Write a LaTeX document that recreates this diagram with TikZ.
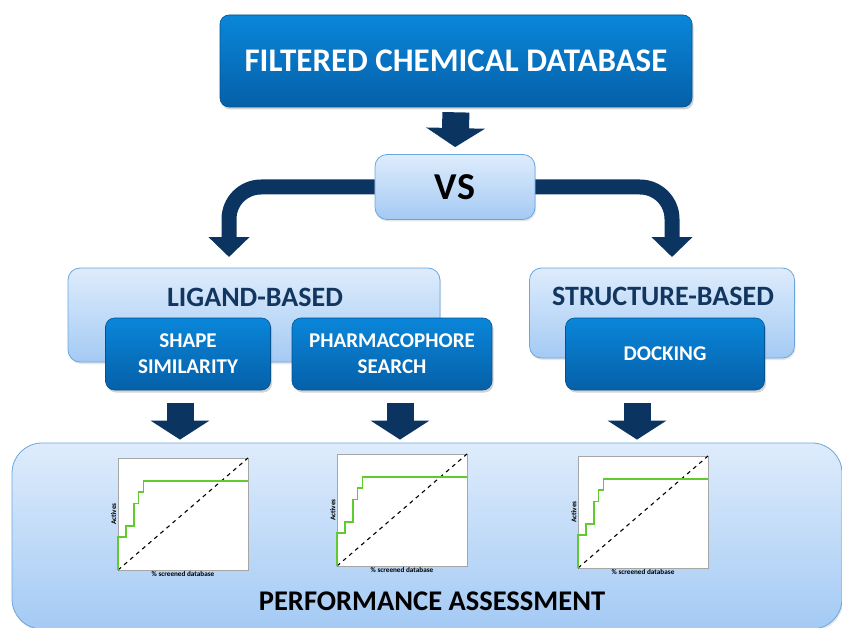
\documentclass[tikz,border=0pt]{standalone}
\usepackage{fontspec}
\setmainfont{Carlito}
\usetikzlibrary{arrows.meta,shadows,positioning,calc}

\definecolor{boxtop}{HTML}{0A86DA}
\definecolor{boxbot}{HTML}{0560A8}
\definecolor{lighttop}{HTML}{DEECFC}
\definecolor{lightbot}{HTML}{A4CAF4}
\definecolor{lightline}{HTML}{6AA6DE}
\definecolor{navy}{HTML}{0C3461}
\definecolor{navytext}{HTML}{12365F}
\definecolor{roc}{HTML}{5FCB2E}

\tikzset{
  darkbox/.style={rounded corners=9pt, top color=boxtop, bottom color=boxbot,
    draw=boxbot!85!black, line width=0.6pt, text=white, align=center,
    font=\bfseries\fontsize{21}{26}\selectfont,
    drop shadow={shadow xshift=1.5pt, shadow yshift=-2.5pt, opacity=0.35}},
  lightbox/.style={rounded corners=12pt, top color=lighttop, bottom color=lightbot,
    draw=lightline, line width=0.8pt,
    drop shadow={shadow xshift=1pt, shadow yshift=-2pt, opacity=0.2}},
  bigarrow/.style={navy, line width=27pt, -{Triangle[length=19pt,width=58pt]}},
  bendarrow/.style={navy, line width=15pt, rounded corners=32pt,
    -{Triangle[length=20pt,width=40pt]}},
  plotframe/.style={draw=gray!70, fill=white, line width=0.8pt},
  diag/.style={black, line width=1.1pt, dash pattern=on 4pt off 4pt},
  roccurve/.style={roc, line width=1.8pt},
  axislab/.style={font=\bfseries\fontsize{7.2}{8}\selectfont, inner sep=1.5pt},
  famtext/.style={text=navytext, font=\bfseries\fontsize{28}{32}\selectfont},
}

% one enrichment plot: name, lower left corner
\newcommand{\rocplot}[3]{%
  \begin{scope}[shift={(#2,#3)}, x=130pt, y=112pt]
    \draw[plotframe] (0,0) rectangle (1,1);
    \draw[diag] (0,0) -- (1,1);
    \draw[roccurve] (0,0) |- (0.059,0.297) |- (0.124,0.394) |- (0.157,0.594)
      |- (0.196,0.697) |- (1,0.797);
    \node[axislab, rotate=90, anchor=south] (#1y) at (0,0.5) {Actives};
    \node[axislab, anchor=north] (#1x) at (0.5,0) {\% screened database};
  \end{scope}}

\begin{document}
\begin{tikzpicture}[x=1pt, y=-1pt]
  \useasboundingbox (0,0) rectangle (842,628);
  %top
  \node[darkbox, minimum width=472pt, minimum height=92pt,
    font=\bfseries\fontsize{33}{36}\selectfont] (db) at (456,61) {FILTERED CHEMICAL DATABASE};
  \node[lightbox, minimum width=160pt, minimum height=65pt,
    font=\bfseries\fontsize{38}{40}\selectfont] (vs) at (455,187) {VS};
  %families
  \node[lightbox, minimum width=372pt, minimum height=94pt] (lig) at (254,315) {};
  \node[famtext] (ligt) at (255,297) {LIGAND-BASED};
  \node[lightbox, minimum width=265pt, minimum height=90pt] (str) at (662,313) {};
  \node[famtext] (strt) at (663,296) {STRUCTURE-BASED};
  %methods
  \node[darkbox, minimum width=165pt, minimum height=72pt] (sim) at (188,354) {SHAPE\\SIMILARITY};
  \node[darkbox, minimum width=200pt, minimum height=72pt] (pha) at (392,354) {PHARMACOPHORE\\SEARCH};
  \node[darkbox, minimum width=199pt, minimum height=72pt] (dock) at (665,354) {DOCKING};
  %assessment
  \node[lightbox, rounded corners=30pt, minimum width=830pt, minimum height=186pt] (perf) at (427,536) {};
  \node[font=\bfseries\fontsize{28.5}{32}\selectfont] (perft) at (432,601) {PERFORMANCE ASSESSMENT};
  \rocplot{p1}{118}{570}
  \rocplot{p2}{337}{566}
  \rocplot{p3}{578}{568}
  %arrows
  \coordinate (ligin) at (229,268);
  \coordinate (strin) at (672,268);
  \draw[bigarrow, shorten <=5pt, shorten >=7pt] (db.south) -- (vs.north);
  \draw[bendarrow, shorten >=11pt] (vs.west) -| (ligin);
  \draw[bendarrow, shorten >=11pt] (vs.east) -| (strin);
  \draw[bigarrow, shorten <=13pt, shorten >=3pt] ([xshift=-8pt]sim.south) -- ([xshift=-8pt]sim.south |- perf.north);
  \draw[bigarrow, shorten <=13pt, shorten >=3pt] ([xshift=8pt]pha.south) -- ([xshift=8pt]pha.south |- perf.north);
  \draw[bigarrow, shorten <=13pt, shorten >=3pt] ([xshift=-28pt]dock.south) -- ([xshift=-28pt]dock.south |- perf.north);
\end{tikzpicture}
\end{document}
